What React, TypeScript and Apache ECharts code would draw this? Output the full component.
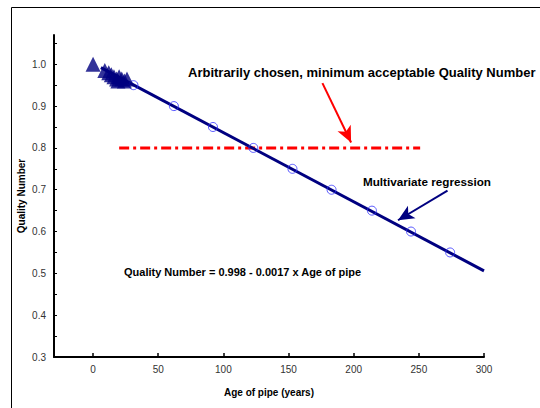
import React, { useEffect, useRef } from "react";
import * as echarts from "echarts";

// Observed pipes (triangles): [age, quality number]
const observedPoints: [number, number][] = [
  [0, 1.0],
  [9, 0.985],
  [12, 0.98],
  [14, 0.975],
  [16, 0.97],
  [18, 0.965],
  [20, 0.97],
  [22, 0.965],
  [24, 0.96],
  [19, 0.96],
  [26, 0.965],
];

// Regression sample points (open circles)
const regressionPoints: [number, number][] = [
  [31, 0.95],
  [62, 0.9],
  [92, 0.85],
  [123, 0.8],
  [153, 0.75],
  [183, 0.7],
  [214, 0.65],
  [244, 0.6],
  [274, 0.55],
];

// Regression line end points
const regressionLine: [number, number][] = [
  [6, 0.992],
  [300, 0.506],
];

// Minimum acceptable quality number line
const thresholdLine: [number, number][] = [
  [20, 0.8],
  [251, 0.8],
];

// Annotation arrows (tail, tip)
const redArrow: [number, number][] = [
  [176, 0.955],
  [198, 0.813],
];
const blueArrow: [number, number][] = [
  [272, 0.698],
  [234, 0.627],
];

const xTicks = [0, 50, 100, 150, 200, 250, 300];
const yLabels = [0.3, 0.4, 0.5, 0.6, 0.7, 0.8, 0.9, 1.0];
const yTicks = [0.3, 0.35, 0.4, 0.45, 0.5, 0.55, 0.6, 0.65, 0.7, 0.75, 0.8, 0.85, 0.9, 0.95, 1.0, 1.05];

const FONT = "'Liberation Sans', Arial, sans-serif";

export default function App() {
  const ref = useRef<HTMLDivElement>(null);
  useEffect(() => {
    document.body.style.margin = "0";
    const chart = echarts.init(ref.current!, null, { renderer: "svg" });
    chart.setOption({
      animation: false,
      backgroundColor: "#fff",
      textStyle: { fontFamily: FONT },
      grid: { left: 54, right: 56, top: 35, bottom: 51 },
      xAxis: {
        type: "value",
        min: -30,
        max: 300,
        axisLine: { show: true, onZero: false, lineStyle: { color: "#000", width: 2 } },
        axisTick: { show: true, inside: true, length: 4, customValues: xTicks, lineStyle: { color: "#000", width: 1.5 } },
        axisLabel: { customValues: xTicks, color: "#333", fontSize: 10, margin: 7, fontFamily: FONT },
        splitLine: { show: false },
        name: "Age of pipe (years)",
        nameLocation: "middle",
        nameGap: 30,
        nameMoveOverlap: false,
        nameTextStyle: { color: "#000", fontSize: 10, fontWeight: "bold", fontFamily: FONT },
      },
      yAxis: {
        type: "value",
        min: 0.3,
        max: 1.07,
        axisLine: { show: true, onZero: false, lineStyle: { color: "#000", width: 2 } },
        axisTick: { show: true, inside: true, length: 3, customValues: yTicks, lineStyle: { color: "#000", width: 1 } },
        axisLabel: {
          customValues: yLabels,
          color: "#333",
          fontSize: 10,
          margin: 8,
          fontFamily: FONT,
          formatter: (v: number) => v.toFixed(1),
        },
        splitLine: { show: false },
        name: "Quality Number",
        nameLocation: "middle",
        nameRotate: 90,
        nameGap: 28,
        nameMoveOverlap: false,
        nameTextStyle: { color: "#000", fontSize: 10, fontWeight: "bold", fontFamily: FONT },
      },
      series: [
        {
          type: "line",
          data: thresholdLine,
          symbol: "none",
          lineStyle: { color: "#ff0000", width: 3, type: [10, 4, 3, 4] },
          z: 1,
        },
        {
          type: "line",
          data: regressionLine,
          symbol: "none",
          lineStyle: { color: "#000080", width: 3 },
          z: 2,
          markLine: {
            silent: true,
            symbol: ["none", "arrow"],
            symbolSize: [11, 16],
            label: { show: false },
            data: [
              [
                { coord: redArrow[0], lineStyle: { color: "#ff0000", width: 2, type: "solid" } },
                { coord: redArrow[1] },
              ],
              [
                { coord: blueArrow[0], lineStyle: { color: "#000080", width: 2, type: "solid" } },
                { coord: blueArrow[1] },
              ],
            ],
          },
        },
        {
          type: "scatter",
          data: regressionPoints,
          symbol: "circle",
          symbolSize: 9,
          itemStyle: { color: "rgba(0,0,0,0)", borderColor: "#3333ff", borderWidth: 1 },
          z: 3,
        },
        {
          type: "scatter",
          data: observedPoints,
          symbol: "triangle",
          symbolSize: 15,
          itemStyle: { color: "#000080" },
          z: 4,
        },
      ],
      graphic: [
        {
          type: "rect",
          shape: { x: 11.5, y: 7.5, width: 600, height: 500 },
          style: { fill: "none", stroke: "#000", lineWidth: 1 },
          silent: true,
        },
        {
          type: "text",
          x: 188,
          y: 72,
          style: {
            text: "Arbitrarily chosen, minimum acceptable Quality Number",
            font: `bold 13px ${FONT}`,
            fill: "#000",
            verticalAlign: "middle",
          },
        },
        {
          type: "text",
          x: 363,
          y: 181,
          style: {
            text: "Multivariate regression",
            font: `bold 11.7px ${FONT}`,
            fill: "#000",
            verticalAlign: "middle",
          },
        },
        {
          type: "text",
          x: 124,
          y: 272,
          style: {
            text: "Quality Number = 0.998 - 0.0017 x Age of pipe",
            font: `bold 11px ${FONT}`,
            fill: "#000",
            verticalAlign: "middle",
          },
        },
      ],
    });
    return () => chart.dispose();
  }, []);
  return (
    <div
      ref={ref}
      style={{ position: "absolute", left: 0, top: 0, width: 540, height: 408 }}
    />
  );
}
